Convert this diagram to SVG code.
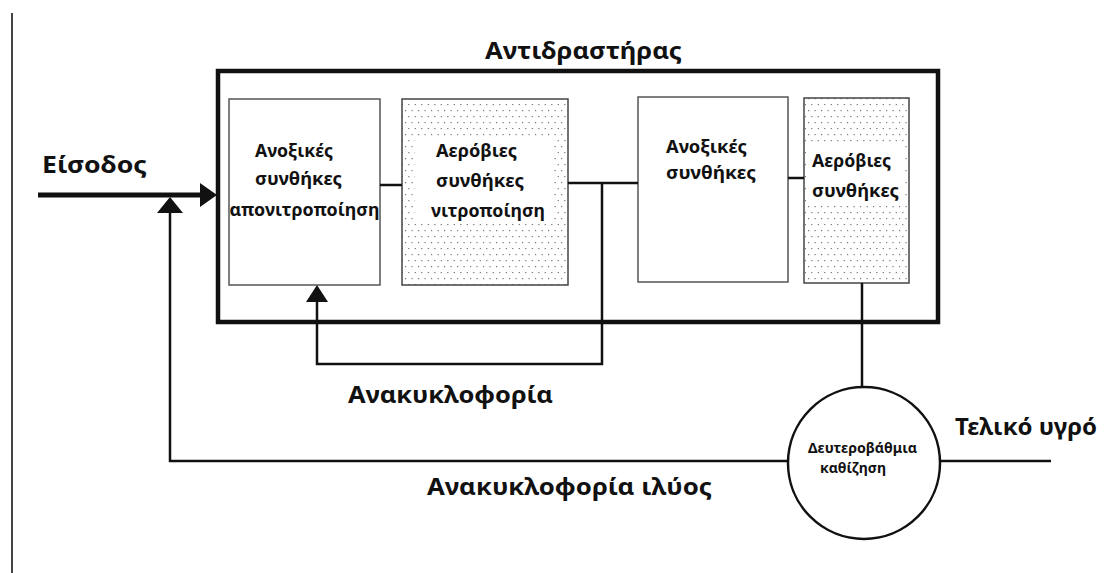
<svg xmlns="http://www.w3.org/2000/svg" width="1110" height="573" viewBox="0 0 1110 573">
<style>
text{font-family:"Noto Sans","DejaVu Sans","Liberation Sans",sans-serif;font-weight:bold;fill:#111}
.big{font-size:24px}
.box{font-size:17px}
.small{font-size:14px}
.unit{fill:#fff;stroke:#555;stroke-width:1.5}
.dotted{fill:url(#dots);stroke:#444;stroke-width:1.5}
.wire{fill:none;stroke:#111;stroke-width:2.5}
</style>
<defs>
<pattern id="dots" width="13" height="12" patternUnits="userSpaceOnUse">
<rect width="13" height="12" fill="#fff"/>
<rect x="2" y="2" width="1.2" height="1.2" fill="#777"/>
<rect x="8.5" y="2" width="1.2" height="1.2" fill="#777"/>
<rect x="5.2" y="8" width="1.2" height="1.2" fill="#777"/>
<rect x="11.7" y="8" width="1.2" height="1.2" fill="#777"/>
</pattern>
<marker id="headIn" markerUnits="userSpaceOnUse" viewBox="0 0 17 24" refX="0" refY="12" markerWidth="17" markerHeight="24" orient="auto"><path d="M0,0 L17,12 L0,24 z" fill="#111"/></marker>
<marker id="headUp" markerUnits="userSpaceOnUse" viewBox="0 0 16 26" refX="0" refY="13" markerWidth="16" markerHeight="26" orient="auto"><path d="M0,0 L16,13 L0,26 z" fill="#111"/></marker>
<marker id="headRc" markerUnits="userSpaceOnUse" viewBox="0 0 17 22" refX="0" refY="11" markerWidth="17" markerHeight="22" orient="auto"><path d="M0,0 L17,11 L0,22 z" fill="#111"/></marker>
</defs>
<rect width="1110" height="573" fill="#fff"/>
<line x1="12" y1="13" x2="12" y2="573" stroke="#444" stroke-width="2"/>

<g id="reactor">
<rect x="218" y="71" width="720" height="251" fill="none" stroke="#111" stroke-width="4.5"/>
<text class="big" x="485" y="59" textLength="197" lengthAdjust="spacingAndGlyphs">Αντιδραστήρας</text>
</g>

<g id="anoxic1">
<rect class="unit" x="229" y="99" width="151" height="186"/>
<text class="box" x="255" y="157" textLength="78" lengthAdjust="spacingAndGlyphs">Ανοξικές</text>
<text class="box" x="255" y="185" textLength="87" lengthAdjust="spacingAndGlyphs">συνθήκες</text>
<text class="box" x="229.5" y="216" textLength="150" lengthAdjust="spacingAndGlyphs">απονιτροποίηση</text>
</g>

<g id="aerobic1">
<rect class="dotted" x="402" y="99" width="166" height="186"/>
<rect x="415" y="136" width="139" height="88" fill="#fff"/>
<text class="box" x="436" y="157" textLength="81" lengthAdjust="spacingAndGlyphs">Αερόβιες</text>
<text class="box" x="436" y="187" textLength="88" lengthAdjust="spacingAndGlyphs">συνθήκες</text>
<text class="box" x="431" y="217" textLength="114" lengthAdjust="spacingAndGlyphs">νιτροποίηση</text>
</g>

<g id="anoxic2">
<rect class="unit" x="638" y="97" width="150" height="185" stroke="#444"/>
<text class="box" x="666" y="153" textLength="81" lengthAdjust="spacingAndGlyphs">Ανοξικές</text>
<text class="box" x="666" y="179" textLength="90" lengthAdjust="spacingAndGlyphs">συνθήκες</text>
</g>

<g id="aerobic2">
<rect class="dotted" x="804" y="98" width="105" height="185"/>
<rect x="806" y="143" width="99" height="62" fill="#fff"/>
<text class="box" x="812" y="167" textLength="79" lengthAdjust="spacingAndGlyphs">Αερόβιες</text>
<text class="box" x="812" y="197" textLength="87" lengthAdjust="spacingAndGlyphs">συνθήκες</text>
</g>

<g id="clarifier">
<circle cx="864" cy="463" r="76" fill="#fff" stroke="#111" stroke-width="2.5"/>
<text class="small" x="808" y="453" textLength="109" lengthAdjust="spacingAndGlyphs">Δευτεροβάθμια</text>
<text class="small" x="820" y="473" textLength="66" lengthAdjust="spacingAndGlyphs">καθίζηση</text>
</g>

<g id="labels">
<text class="big" x="42" y="173" textLength="105" lengthAdjust="spacingAndGlyphs">Είσοδος</text>
<text class="big" x="348" y="403" textLength="205" lengthAdjust="spacingAndGlyphs">Ανακυκλοφορία</text>
<text class="big" x="427" y="495" textLength="285" lengthAdjust="spacingAndGlyphs">Ανακυκλοφορία ιλύος</text>
<text class="big" x="955" y="435" textLength="142" lengthAdjust="spacingAndGlyphs">Τελικό υγρό</text>
</g>

<g id="connectors">
<line x1="38" y1="195" x2="200" y2="195" stroke="#111" stroke-width="5" marker-end="url(#headIn)"/>
<path class="wire" d="M788,461 H170 V213" marker-end="url(#headUp)"/>
<line class="wire" x1="380" y1="185" x2="402" y2="185"/>
<line class="wire" x1="568" y1="183" x2="638" y2="183"/>
<path class="wire" d="M602,183 V364 H317 V302" marker-end="url(#headRc)"/>
<line class="wire" x1="788" y1="178" x2="804" y2="178"/>
<line class="wire" x1="862" y1="283" x2="862" y2="387"/>
<line class="wire" x1="940" y1="461" x2="1051" y2="461"/>
</g>
</svg>
